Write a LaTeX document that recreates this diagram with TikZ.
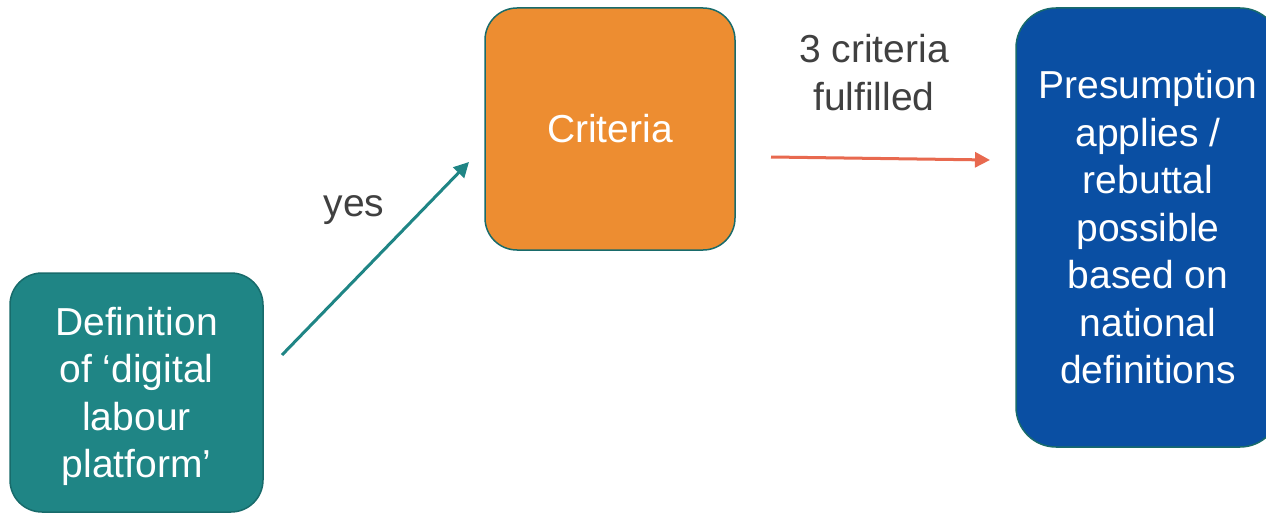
\documentclass[tikz,border=0pt]{standalone}
\usepackage{fontspec}
\setmainfont{Liberation Sans}
\usetikzlibrary{arrows.meta}
\definecolor{tealfill}{HTML}{1F8585}
\definecolor{tealedge}{HTML}{186B6B}
\definecolor{orangefill}{HTML}{ED8D31}
\definecolor{bluefill}{HTML}{0A4FA3}
\definecolor{labelgray}{HTML}{404040}
\definecolor{redarrow}{HTML}{E8694F}
\tikzset{
  box/.style={draw=tealedge, line width=1.5pt, rounded corners=32pt, text=white, align=center,
    font=\fontsize{39}{47.5}\selectfont, inner sep=0pt},
  boxtext/.style={text=white, align=center, font=\fontsize{39}{47.5}\selectfont, inner sep=0pt},
  lbl/.style={text=labelgray, align=center, font=\fontsize{39}{48}\selectfont, inner sep=0pt},
  conn/.style={line width=3pt, -{Triangle[length=15pt,width=15pt]}}
}
\begin{document}
\begin{tikzpicture}[x=1pt,y=-1pt]
\clip (0,0) rectangle (1266,516);
\fill[white] (0,0) rectangle (1266,516);
\node[box, fill=tealfill, minimum width=253pt, minimum height=239pt,
  label={[boxtext, yshift=-4pt]center:{Definition\\of ‘digital\\labour\\platform’}}] (def) at (136.5,392.5) {};
\node[box, fill=orangefill, minimum width=250pt, minimum height=242pt] (crit) at (610,129) {Criteria};
\node[box, fill=bluefill, rounded corners=40pt, minimum width=264pt, minimum height=439pt] (pres) at (1148,227.5)
  {Presumption\\applies /\\rebuttal\\possible\\based on\\national\\definitions};
\coordinate (a1s) at (282,355);
\coordinate (a1e) at (469,162);
\coordinate (a2s) at (771,157);
\coordinate (a2e) at (990,160);
\draw[conn, draw=tealfill, fill=tealfill] (a1s) -- (a1e);
\draw[conn, draw=redarrow, fill=redarrow] (a2s) -- (a2e);
\node[lbl] (yes) at (354,210) {yes};
\node[lbl] (ful) at (874,73) {3 criteria\\fulfilled};
\end{tikzpicture}
\end{document}
